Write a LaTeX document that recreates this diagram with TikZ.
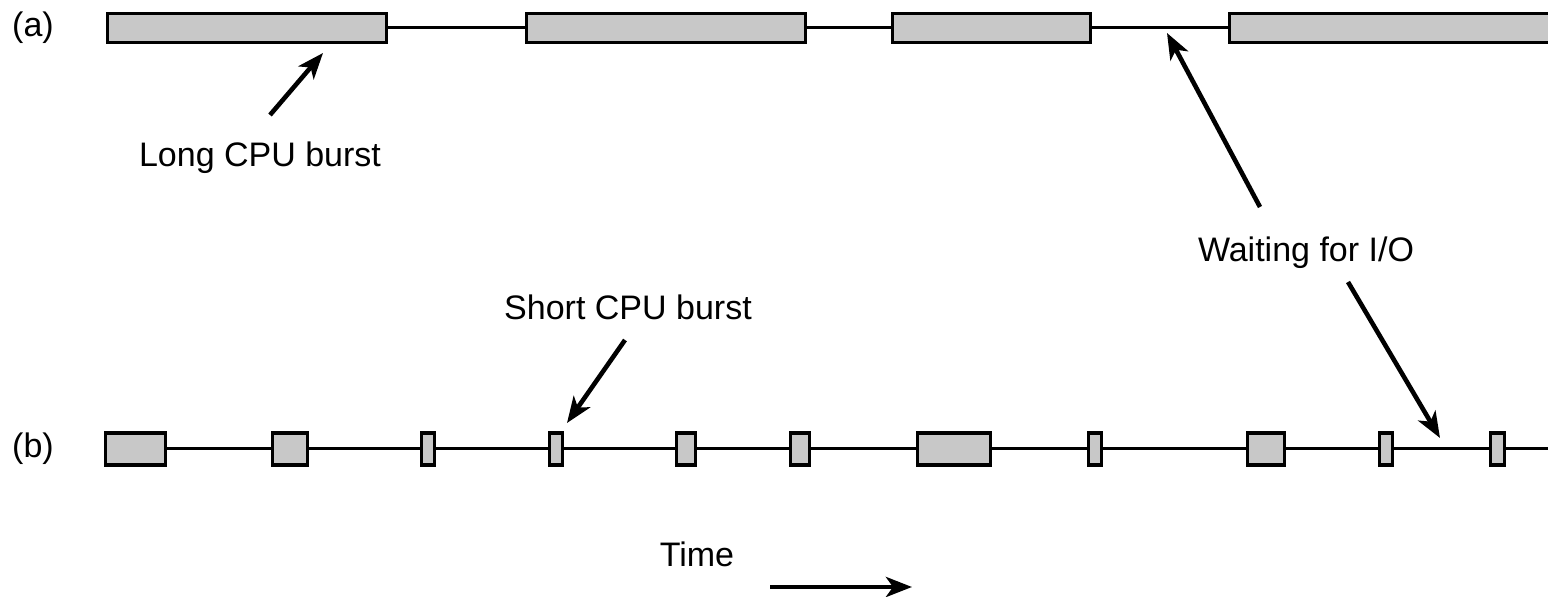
\documentclass[tikz,border=0pt]{standalone}
\usepackage{fontspec}
\setmainfont{Liberation Sans}
\usetikzlibrary{arrows.meta}
\definecolor{burstgray}{RGB}{200,200,200}
\begin{document}
\begin{tikzpicture}[x=0.5pt,y=-0.5pt,
  burst/.style={draw=black, fill=burstgray, line width=1.6pt, inner sep=0pt, anchor=west},
  bursta/.style={burst, minimum height=14.5pt},
  burstb/.style={burst, minimum height=16pt},
  waitline/.style={line width=1.5pt},
  pointer/.style={line width=2.3pt, -{Stealth[length=13pt,width=10pt,inset=3.5pt]}},
  lbl/.style={font=\fontsize{17}{20}\selectfont, inner sep=0pt}]
\useasboundingbox (0,0) rectangle (1548,597);
% row (a)
\node[lbl] (la) at (33,28) {(a)};
\node[bursta, minimum width=139.5pt] (a1) at (105.5,28) {};
\node[bursta, minimum width=139.5pt] (a2) at (524.5,28) {};
\node[bursta, minimum width=99pt]    (a3) at (890.5,28) {};
\node[bursta, minimum width=170pt]   (a4) at (1227.5,28) {};
\draw[waitline] (a1.east) -- (a2.west);
\draw[waitline] (a2.east) -- (a3.west);
\draw[waitline] (a3.east) -- (a4.west);
% row (b)
\node[lbl] (lb) at (33,449) {(b)};
\node[burstb, minimum width=30pt]   (b1) at (103.5,449) {};
\node[burstb, minimum width=17.5pt] (b2) at (270.5,449) {};
\node[burstb, minimum width=6.5pt]  (b3) at (419.5,449) {};
\node[burstb, minimum width=6.5pt]  (b4) at (547.5,449) {};
\node[burstb, minimum width=9.5pt]  (b5) at (674.5,449) {};
\node[burstb, minimum width=9.5pt]  (b6) at (788.5,449) {};
\node[burstb, minimum width=36.5pt] (b7) at (915.5,449) {};
\node[burstb, minimum width=6.5pt]  (b8) at (1086.5,449) {};
\node[burstb, minimum width=18.5pt] (b9) at (1245.5,449) {};
\node[burstb, minimum width=6.5pt]  (b10) at (1377.5,449) {};
\node[burstb, minimum width=7pt]    (b11) at (1488.5,449) {};
\coordinate (bend) at (1560,449);
\foreach \i/\j in {b1/b2,b2/b3,b3/b4,b4/b5,b5/b6,b6/b7,b7/b8,b8/b9,b9/b10,b10/b11}
  \draw[waitline] (\i.east) -- (\j.west);
\draw[waitline] (b11.east) -- (bend);
% labels
\node[lbl, anchor=base] (long) at (260,167) {Long CPU burst};
\node[lbl, anchor=base] (wait) at (1306,262) {Waiting for I/O};
\node[lbl, anchor=base] (short) at (628,320) {Short CPU burst};
\node[lbl, anchor=base] (time) at (697,567) {Time};
% pointers
\coordinate (longtail) at (270,115);
\coordinate (longtip) at (323,53);
\coordinate (waituptail) at (1260,207);
\coordinate (wauptip) at (1167,33);
\coordinate (waitdntail) at (1348,282);
\coordinate (waitdntip) at (1440,438);
\coordinate (shorttail) at (625,340);
\coordinate (shorttip) at (567,423);
\coordinate (timetail) at (770,587);
\coordinate (timetip) at (912,587);
\draw[pointer] (longtail) -- (longtip);
\draw[pointer] (waituptail) -- (wauptip);
\draw[pointer] (waitdntail) -- (waitdntip);
\draw[pointer] (shorttail) -- (shorttip);
\draw[pointer] (timetail) -- (timetip);
\end{tikzpicture}
\end{document}
